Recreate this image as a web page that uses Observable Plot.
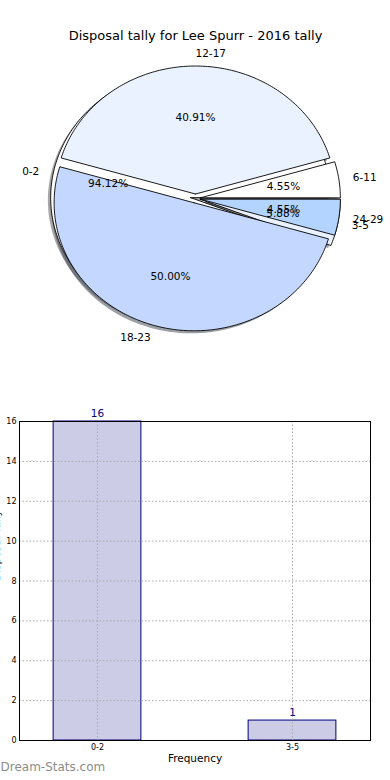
<!DOCTYPE html>
<html><head><meta charset="utf-8">
<script src="https://cdn.jsdelivr.net/npm/d3@7"></script>
<script src="https://cdn.jsdelivr.net/npm/@observablehq/plot@0.6"></script>
<style>
body{margin:0;background:#fff}
#chart svg{display:block}
</style>
</head><body><div id="chart"></div>
<script>
// ---- data ----
const titleText = "Disposal tally for Lee Spurr - 2016 tally";
const pieA_labels = ["6-11", "12-17", "18-23", "24-29"];
const pieA_values = [1, 9, 11, 1];
const pieB_labels = ["0-2", "3-5"];
const pieB_values = [16, 1];
const sliceColors = ["#ffffff", "#eaf1ff", "#c4d8ff", "#b3d4ff"];
const barCategories = ["0-2", "3-5"];
const barValues = [16, 1];
const yTicks = [0, 2, 4, 6, 8, 10, 12, 14, 16];

const FONT = "DejaVu Sans, Bitstream Vera Sans, sans-serif";
const EXPLODE = 0.035;

function buildPie(labels, values, colors, explode) {
  const total = d3.sum(values);
  let acc = 0;
  return values.map((v, i) => {
    const t1 = acc / total * 360; acc += v; const t2 = acc / total * 360;
    const tm = (t1 + t2) / 2 * Math.PI / 180;
    const cx = explode * Math.cos(tm), cy = explode * Math.sin(tm);
    const pts = [{x: cx, y: cy}];
    const n = Math.max(2, Math.ceil(t2 - t1));
    for (let k = 0; k <= n; k++) {
      const a = (t1 + (t2 - t1) * k / n) * Math.PI / 180;
      pts.push({x: cx + Math.cos(a), y: cy + Math.sin(a)});
    }
    pts.push({x: cx, y: cy});
    return {label: labels[i], value: v, pct: v / total * 100, color: colors[i % colors.length], tm, cx, cy, pts};
  });
}

const pieA = buildPie(pieA_labels, pieA_values, sliceColors, EXPLODE);
const pieB = buildPie(pieB_labels, pieB_values, sliceColors, EXPLODE);
const allSlices = [...pieA, ...pieB];

function shadowColor(c) {
  const r = d3.rgb(c);
  return d3.rgb(r.r * 0.3, r.g * 0.3, r.b * 0.3).formatHex();
}

const PH = 390;
const pieMarks = [];
for (const s of [...pieB, ...pieA]) {
  pieMarks.push(Plot.line(s.pts, {x: d => d.x - 0.02, y: d => d.y - 0.02, fill: shadowColor(s.color), fillOpacity: 0.5, stroke: "none"}));
}
for (const s of [...pieB, ...pieA]) {
  pieMarks.push(Plot.line(s.pts, {x: "x", y: "y", fill: s.color, stroke: "#000", strokeWidth: 0.9, strokeLinejoin: "miter"}));
}
const labR = 1.1, pctR = 0.6;
pieMarks.push(Plot.text(allSlices.filter(s => Math.cos(s.tm) > -1e-9), {
  x: s => s.cx + labR * Math.cos(s.tm), y: s => s.cy + labR * Math.sin(s.tm),
  text: "label", textAnchor: "start", fontSize: 10.5, fill: "#000"
}));
pieMarks.push(Plot.text(allSlices.filter(s => Math.cos(s.tm) <= -1e-9), {
  x: s => s.cx + labR * Math.cos(s.tm), y: s => s.cy + labR * Math.sin(s.tm),
  text: "label", textAnchor: "end", fontSize: 10.5, fill: "#000"
}));
pieMarks.push(Plot.text(allSlices, {
  x: s => s.cx + pctR * Math.cos(s.tm), y: s => s.cy + pctR * Math.sin(s.tm),
  text: s => s.pct.toFixed(2) + "%", textAnchor: "middle", fontSize: 10.5, fill: "#000"
}));
pieMarks.push(Plot.text([titleText], {frameAnchor: "top", dy: 30, text: d => d, fontSize: 13, fill: "#000"}));

const piePlot = Plot.plot({
  width: 390, height: PH, margin: 0,
  style: {fontFamily: FONT, background: "#fff"},
  x: {domain: [-195 / 140, 195 / 140], range: [0, 390], axis: null},
  y: {domain: [(198 - PH) / 128, 198 / 128], range: [PH, 0], axis: null},
  marks: pieMarks
});

const bars = barCategories.map((c, i) => ({i, cat: c, value: barValues[i]}));
const gridStyle = {stroke: "#a8a8a8", strokeOpacity: 1, strokeDasharray: "1.5,2"};
const barPlot = Plot.plot({
  width: 390, height: 390,
  marginTop: 31, marginBottom: 40, marginLeft: 19, marginRight: 20,
  style: {fontFamily: FONT, background: "#fff"},
  x: {domain: [-0.4, 1.4], axis: null},
  y: {domain: [0, 16], axis: null},
  marks: [
    Plot.rectY(bars, {x1: d => d.i - 0.225, x2: d => d.i + 0.225, y: "value", fill: "#ccccE6", stroke: "#000080", strokeWidth: 1}),
    Plot.gridX(bars.map(d => d.i), gridStyle),
    Plot.gridY(yTicks, gridStyle),
    Plot.frame({stroke: "#000", strokeWidth: 1}),
    Plot.axisY(yTicks, {tickSize: 0, tickPadding: 3, fontSize: 8, label: null, fill: "#000"}),
    Plot.axisX(bars.map(d => d.i), {tickSize: 0, tickPadding: 4, fontSize: 8, label: null, tickFormat: i => barCategories[i], fill: "#000"}),
    Plot.text(bars, {x: "i", y: "value", text: d => String(d.value), dy: -8, fontSize: 10.5, fill: "#000080"}),
    Plot.text(["Frequency"], {frameAnchor: "bottom", dy: 21, text: d => d, fontSize: 10.5, fill: "#000"}),
    Plot.text(["Disposal Tally"], {frameAnchor: "left", dx: -19.5, rotate: -90, lineAnchor: "bottom", text: d => d, fontSize: 10.5, fill: "#000"}),
    Plot.text(["Dream-Stats.com"], {frameAnchor: "bottom-left", dx: -19, dy: 30, textAnchor: "start", text: d => d, fontSize: 12, fill: "#8c8c8c"})
  ]
});

const root = document.getElementById("chart");
root.append(piePlot, barPlot);
</script>
</body></html>
